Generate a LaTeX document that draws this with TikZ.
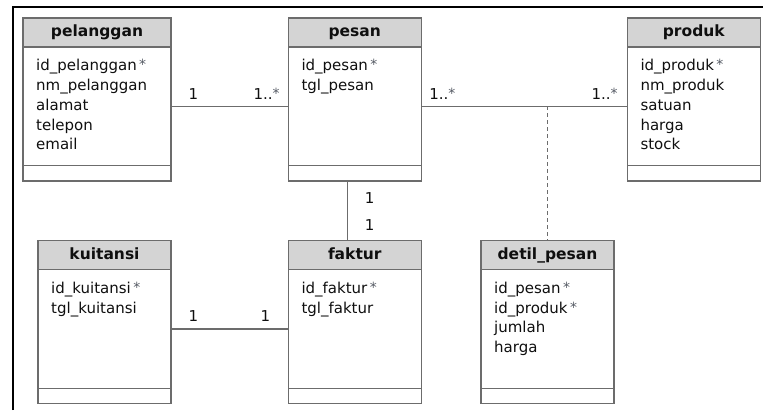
\documentclass[tikz,border=0pt]{standalone}
\usepackage{fontspec}
\setmainfont{DejaVu Sans}
\usepackage{xcolor}
\usepackage{tikz}
\usetikzlibrary{positioning}

\definecolor{linegray}{RGB}{108,108,108}
\definecolor{headgray}{RGB}{212,212,212}
\definecolor{textdark}{RGB}{15,15,15}
\definecolor{stargray}{RGB}{85,90,100}

\newcommand{\pkstar}{\,\textcolor{stargray}{\raisebox{1pt}{\fontsize{14}{14}\selectfont *}}}
\newcommand{\manystar}{\textcolor{stargray}{\raisebox{1pt}{\fontsize{14}{14}\selectfont *}}}

\begin{document}
\begin{tikzpicture}[
		x=1pt, y=-1pt,
		head/.style={draw=linegray, fill=headgray, line width=1.2pt, anchor=north west, minimum width=133pt, minimum height=29pt, inner sep=0pt, outer sep=0pt, text height=11.4pt, text depth=3.5pt, font=\fontsize{15.5}{18}\selectfont\bfseries, text=textdark},
		body/.style={draw=linegray, line width=1.2pt, minimum width=133pt, minimum height=118.5pt, inner sep=0pt, outer sep=0pt},
		foot/.style={draw=linegray, line width=1.2pt, minimum width=133pt, minimum height=15.5pt, inner sep=0pt, outer sep=0pt},
		attr/.style={anchor=north west, align=left, inner sep=0pt, font=\fontsize{15}{19.8}\selectfont, text=textdark},
		link/.style={draw=linegray, line width=1.2pt},
		mult/.style={inner sep=0pt, text height=10.9pt, text depth=0pt, font=\fontsize{15}{18}\selectfont, text=textdark},
		wide/.style={minimum width=148pt}
		]
		
		\useasboundingbox (0,0) rectangle (763,410);
		\draw[line width=2pt] (13,410) -- (13,6.7) -- (763,6.7);
		
		% Classes, top row
		\node[head, wide] (pelanggan) at (23,18) {pelanggan};
		\node[body, wide, below=0pt of pelanggan] (pelanggan-body) {};
		\node[foot, wide, below=0pt of pelanggan-body] (pelanggan-foot) {};
		\node[attr, below right=12pt and 13pt of pelanggan.south west] (pelanggan-attr) {id\_pelanggan\pkstar\\nm\_pelanggan\\alamat\\telepon\\email};
		
		\node[head] (pesan) at (288.3,18) {pesan};
		\node[body, below=0pt of pesan] (pesan-body) {};
		\node[foot, below=0pt of pesan-body] (pesan-foot) {};
		\node[attr, below right=12pt and 13pt of pesan.south west] (pesan-attr) {id\_pesan\pkstar\\tgl\_pesan};
		
		\node[head] (produk) at (627.3,18) {produk};
		\node[body, below=0pt of produk] (produk-body) {};
		\node[foot, below=0pt of produk-body] (produk-foot) {};
		\node[attr, below right=12pt and 13pt of produk.south west] (produk-attr) {id\_produk\pkstar\\nm\_produk\\satuan\\harga\\stock};
		
		% Classes, bottom row
		\node[head] (kuitansi) at (38,240.7) {kuitansi};
		\node[body, below=0pt of kuitansi] (kuitansi-body) {};
		\node[foot, below=0pt of kuitansi-body] (kuitansi-foot) {};
		\node[attr, below right=12pt and 13pt of kuitansi.south west] (kuitansi-attr) {id\_kuitansi\pkstar\\tgl\_kuitansi};
		
		\node[head] (faktur) at (288.3,240.7) {faktur};
		\node[body, below=0pt of faktur] (faktur-body) {};
		\node[foot, below=0pt of faktur-body] (faktur-foot) {};
		\node[attr, below right=12pt and 13pt of faktur.south west] (faktur-attr) {id\_faktur\pkstar\\tgl\_faktur};
		
		\node[head] (detilpesan) at (481,240.7) {detil\_pesan};
		\node[body, below=0pt of detilpesan] (detilpesan-body) {};
		\node[foot, below=0pt of detilpesan-body] (detilpesan-foot) {};
		\node[attr, below right=12pt and 13pt of detilpesan.south west] (detilpesan-attr) {id\_pesan\pkstar\\id\_produk\pkstar\\jumlah\\harga};
		
		% Associations with multiplicities
		\draw[link] (pelanggan-body) -- (pesan-body)
			node[mult, pos=0, anchor=south west, xshift=17pt, yshift=6pt] {1}
			node[mult, pos=1, anchor=south east, xshift=-8pt, yshift=6pt] {1..\manystar};
		\draw[link] (pesan-body) -- (produk-body)
			node[mult, pos=0, anchor=south west, xshift=7.5pt, yshift=6pt] {1..\manystar}
			node[mult, pos=1, anchor=south east, xshift=-9pt, yshift=6pt] {1..\manystar};
		\draw[link] ([xshift=-7.5pt]pesan-foot.south) -- ([xshift=-7.5pt]faktur.north)
			node[mult, pos=0, anchor=north west, xshift=17pt, yshift=-11pt] {1}
			node[mult, pos=1, anchor=south west, xshift=17pt, yshift=9.5pt] {1};
		\draw[link] (kuitansi-body) -- (faktur-body)
			node[mult, pos=0, anchor=south west, xshift=17pt, yshift=7pt] {1}
			node[mult, pos=1, anchor=south east, xshift=-17.5pt, yshift=7pt] {1};
		
		% Association class
		\coordinate (assoc) at (detilpesan |- pesan-body);
		\draw[link, line width=1pt, dash pattern=on 4pt off 3pt] (assoc) -- (detilpesan);
		
	\end{tikzpicture}
\end{document}
